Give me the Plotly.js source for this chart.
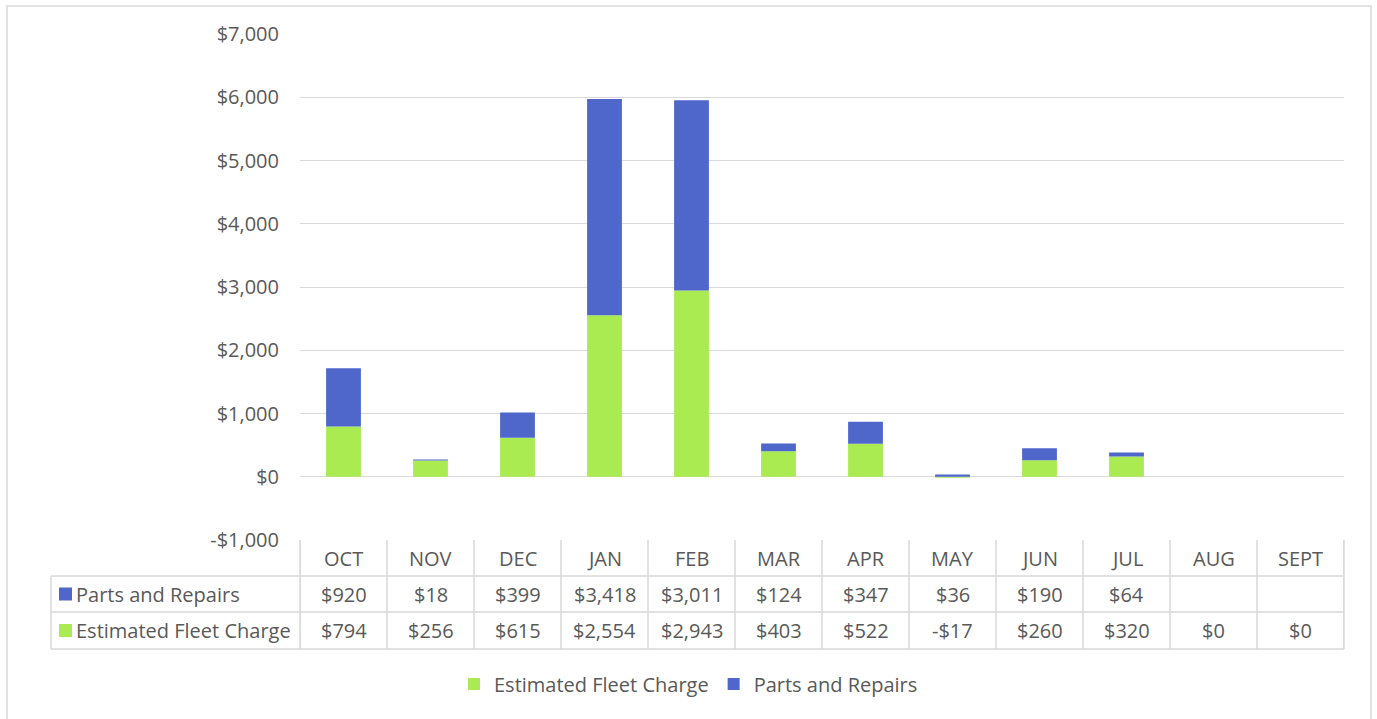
<!DOCTYPE html>
<html>
<head>
<meta charset="utf-8">
<script src="https://cdn.plot.ly/plotly-3.0.1.min.js"></script>
<style>html,body{margin:0;padding:0;background:#fff;}#chart{width:1377px;height:719px;}</style>
</head>
<body>
<div id="chart"></div>
<script>
// ---- data ----
const months = ["OCT","NOV","DEC","JAN","FEB","MAR","APR","MAY","JUN","JUL","AUG","SEPT"];
const partsRepairs = [920, 18, 399, 3418, 3011, 124, 347, 36, 190, 64, null, null];
const fleetCharge = [794, 256, 615, 2554, 2943, 403, 522, -17, 260, 320, 0, 0];
const yTickVals = [-1000, 0, 1000, 2000, 3000, 4000, 5000, 6000, 7000];
const seriesNames = ["Estimated Fleet Charge", "Parts and Repairs"];

// ---- styling / layout constants ----
const W = 1377, H = 719;
const L = 300, R = 1344, T = 34, B = 540;
const green = "#a9eb51", blue = "#4f67cb";
const txt = "#595959", line = "#d9d9d9";
const FONT = "Open Sans";
const FS = 20;

const px = p => (p - L) / (R - L);   // pixel x -> paper
const py = p => (B - p) / (B - T);   // pixel y -> paper

function money(v) {
  if (v === null || v === undefined) return "";
  const s = "$" + Math.abs(v).toLocaleString("en-US");
  return v < 0 ? "-" + s : s;
}

const traces = [
  { type: "bar", name: seriesNames[0], x: months, y: fleetCharge, width: 0.4,
    marker: { color: green }, hoverinfo: "x+y" },
  { type: "bar", name: seriesNames[1], x: months, y: partsRepairs, width: 0.4,
    marker: { color: blue }, hoverinfo: "x+y" }
];

// table geometry (pixel rows)
const rowTop = 540, row1 = 576, row2 = 612, rowBot = 649, legLeft = 51;
const shapes = [];
const lineStyle = { color: line, width: 1.5 };
// outer chart border
shapes.push({ type: "rect", xref: "paper", yref: "paper", x0: px(7), x1: px(1371), y0: py(760), y1: py(6),
  line: { color: line, width: 1.5 }, layer: "below" });
// horizontal table lines
[row1, row2, rowBot].forEach(p => shapes.push({ type: "line", xref: "paper", yref: "paper",
  x0: px(legLeft), x1: 1, y0: py(p), y1: py(p), line: lineStyle }));
// vertical lines at category boundaries
for (let i = 0; i <= months.length; i++) {
  shapes.push({ type: "line", xref: "x", yref: "paper", x0: i - 0.5, x1: i - 0.5,
    y0: py(rowTop), y1: py(rowBot), line: lineStyle });
}
shapes.push({ type: "line", xref: "paper", yref: "paper", x0: 0, x1: 0, y0: py(rowTop), y1: py(rowBot), line: lineStyle });
shapes.push({ type: "line", xref: "paper", yref: "paper", x0: 1, x1: 1, y0: py(rowTop), y1: py(rowBot), line: lineStyle });
shapes.push({ type: "line", xref: "paper", yref: "paper", x0: px(legLeft), x1: px(legLeft), y0: py(row1), y1: py(rowBot), line: lineStyle });
// legend keys in table
[[blue, (row1 + row2) / 2], [green, (row2 + rowBot) / 2]].forEach(([c, cy]) => shapes.push({
  type: "rect", xref: "paper", yref: "paper", x0: px(59), x1: px(72), y0: py(cy + 6.5), y1: py(cy - 6.5),
  fillcolor: c, line: { width: 0 } }));

const annotations = [];
const f = { family: FONT, size: FS, color: txt };
months.forEach((m, i) => {
  annotations.push({ xref: "x", yref: "paper", x: m, y: py((rowTop + row1) / 2), text: m, showarrow: false, font: f, yanchor: "middle" });
  annotations.push({ xref: "x", yref: "paper", x: m, y: py((row1 + row2) / 2), text: money(partsRepairs[i]), showarrow: false, font: f, yanchor: "middle" });
  annotations.push({ xref: "x", yref: "paper", x: m, y: py((row2 + rowBot) / 2), text: money(fleetCharge[i]), showarrow: false, font: f, yanchor: "middle" });
});
annotations.push({ xref: "paper", yref: "paper", x: px(74), y: py((row1 + row2) / 2), text: seriesNames[1], xanchor: "left", yanchor: "middle", showarrow: false, font: f });
annotations.push({ xref: "paper", yref: "paper", x: px(74), y: py((row2 + rowBot) / 2), text: seriesNames[0], xanchor: "left", yanchor: "middle", showarrow: false, font: f });

const layout = {
  width: W, height: H,
  margin: { l: L, r: W - R, t: T, b: H - B, pad: 0 },
  paper_bgcolor: "#fff", plot_bgcolor: "#fff",
  barmode: "relative",
  font: { family: FONT, size: FS, color: txt },
  xaxis: { type: "category", showticklabels: false, showgrid: false, zeroline: false, showline: false, ticks: "",
    range: [-0.5, months.length - 0.5], fixedrange: true },
  yaxis: { range: [-1000, 7000], tickvals: yTickVals, ticktext: yTickVals.map(money),
    showgrid: true, gridcolor: line, gridwidth: 1, zeroline: true, zerolinecolor: line, zerolinewidth: 1,
    showline: false, ticks: "", ticklabelstandoff: 20, tickfont: { family: FONT, size: FS, color: txt }, fixedrange: true },
  showlegend: true,
  legend: { orientation: "h", xref: "container", yref: "container", x: 0.5, y: 1 - 684 / H,
    xanchor: "center", yanchor: "middle", font: { family: FONT, size: FS, color: txt }, traceorder: "normal",
    itemwidth: 30, bgcolor: "rgba(0,0,0,0)" },
  shapes: shapes,
  annotations: annotations
};

Plotly.newPlot("chart", traces, layout, { displayModeBar: false, staticPlot: true });
</script>
</body>
</html>
